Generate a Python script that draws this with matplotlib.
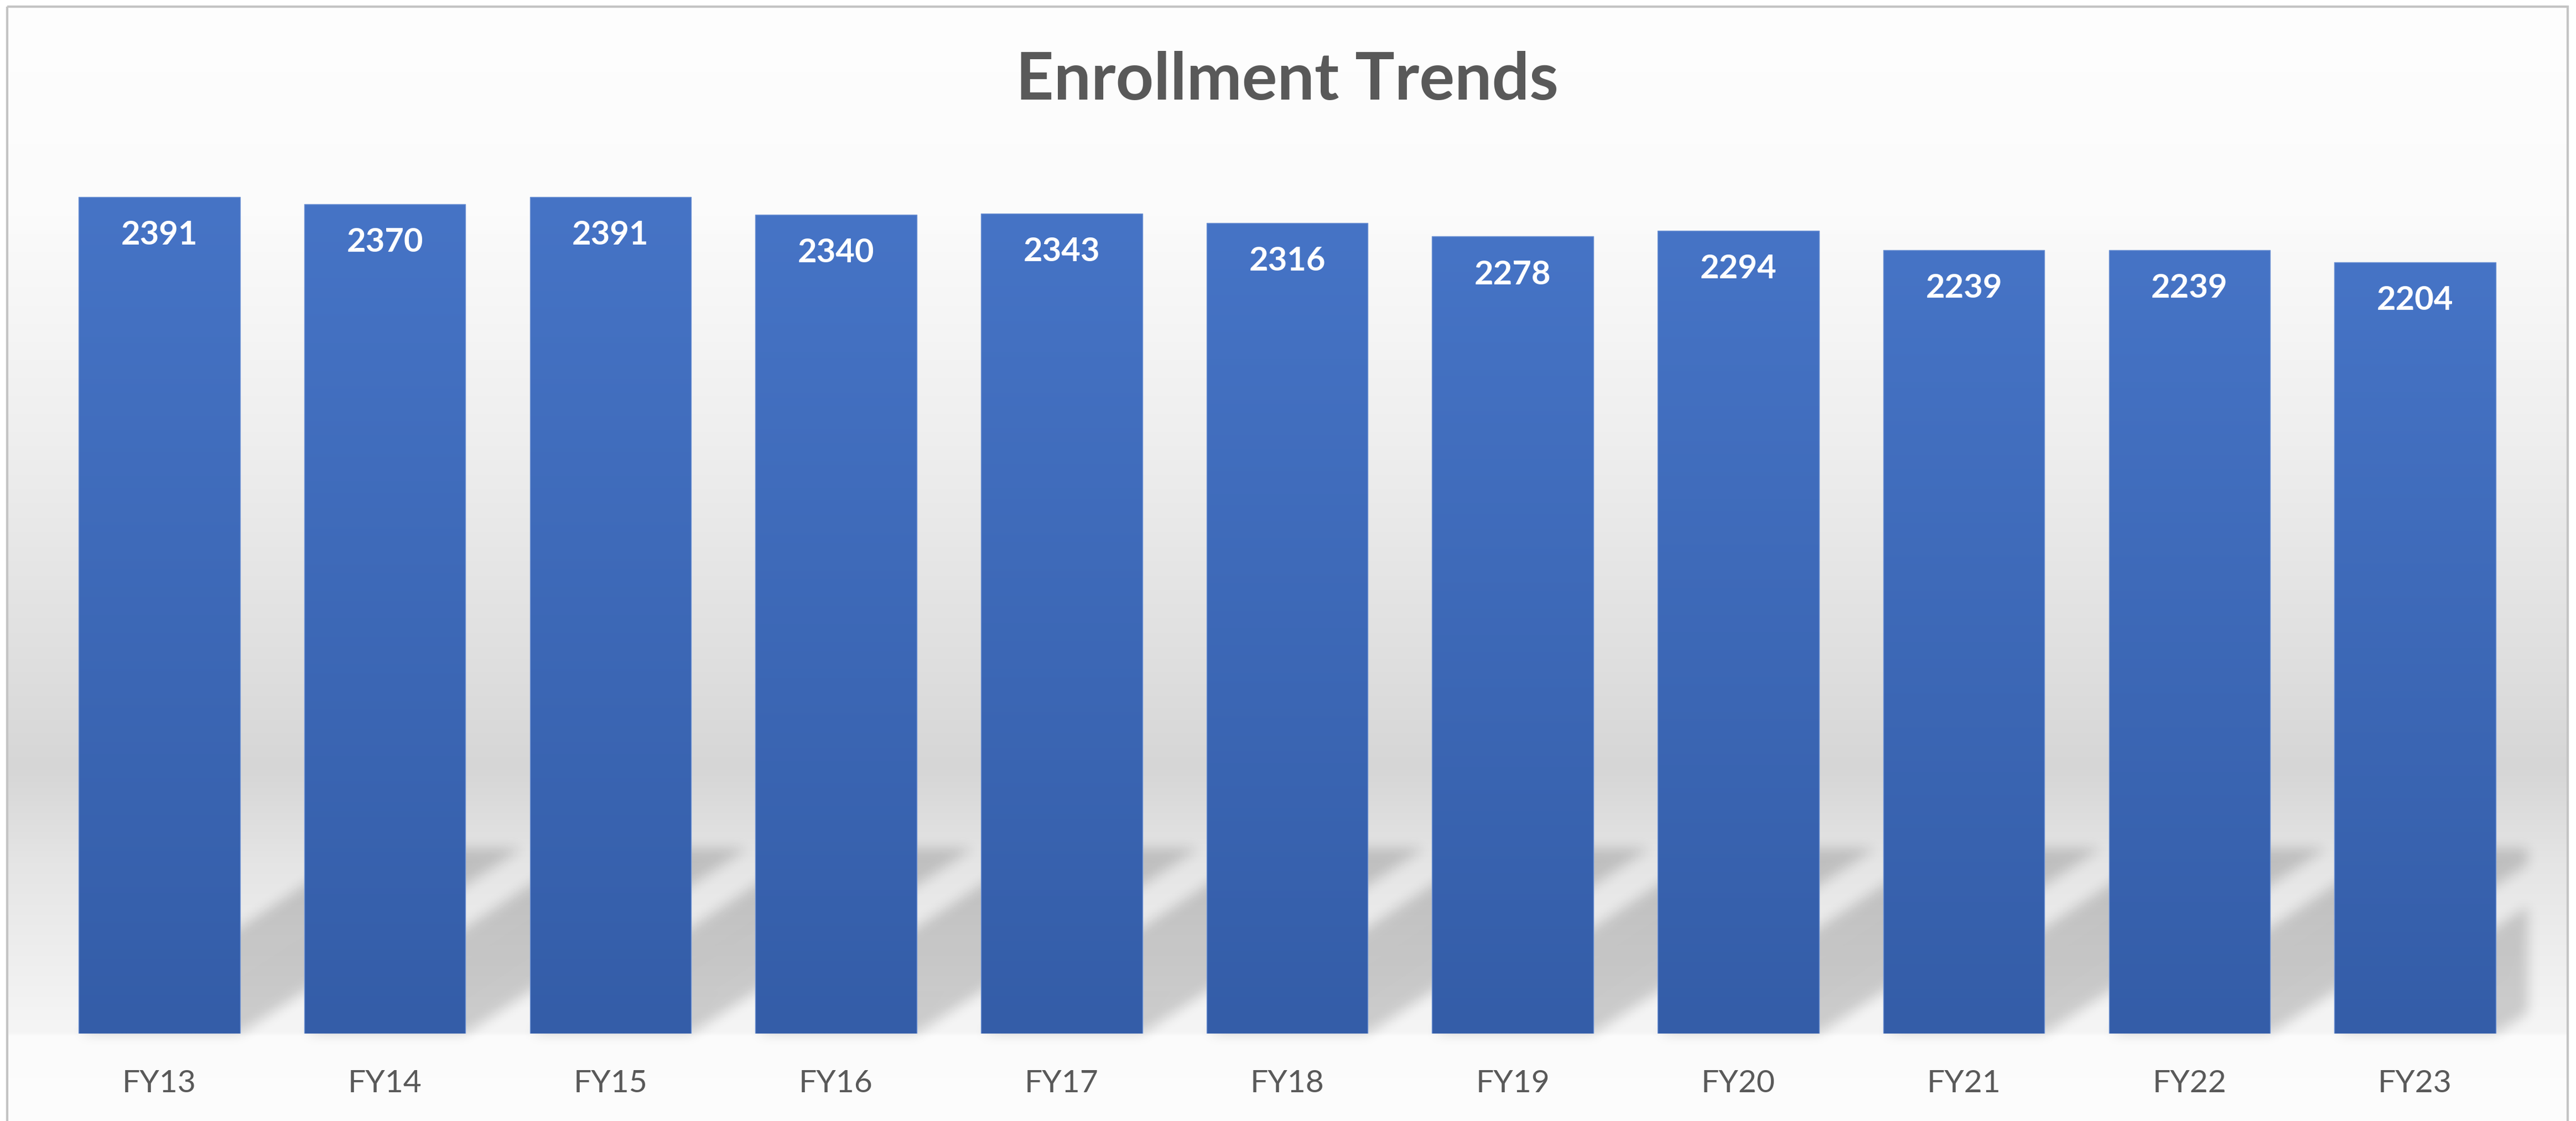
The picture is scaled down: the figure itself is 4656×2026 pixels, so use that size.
import numpy as np
import matplotlib
matplotlib.use("Agg")
import matplotlib.pyplot as plt
from matplotlib.collections import PolyCollection
from matplotlib.patches import Rectangle

# data
categories = ["FY13", "FY14", "FY15", "FY16", "FY17", "FY18",
              "FY19", "FY20", "FY21", "FY22", "FY23"]
enrollment = [2391, 2370, 2391, 2340, 2343, 2316, 2278, 2294, 2239, 2239, 2204]

W, H, DPI = 4656, 2026, 100
plt.rcParams["font.family"] = ["Lato", "DejaVu Sans"]


def blur(a, r):
    # two passes of a box blur along each axis ~ gaussian
    out = a
    for _ in range(2):
        for ax_ in (0, 1):
            pad = [(0, 0), (0, 0)]
            pad[ax_] = (r + 1, r)
            c = np.cumsum(np.pad(out, pad, mode="edge"), axis=ax_)
            n = out.shape[ax_]
            out = (np.take(c, np.arange(2 * r + 1, 2 * r + 1 + n), axis=ax_)
                   - np.take(c, np.arange(n), axis=ax_)) / (2 * r + 1)
    return out


def shadow_filter(im, dpi):
    pad = 30
    padded = np.pad(im, [(pad, pad), (pad, pad), (0, 0)], mode="constant")
    out = np.zeros_like(padded)
    out[..., 3] = blur(padded[..., 3], 9)
    return out, -pad, -pad


fig = plt.figure(figsize=(W / DPI, H / DPI), dpi=DPI, facecolor="white")

# chart area background: vertical grey gradient
rows = np.arange(H)
stops_y = [0, 390, 780, 1170, 1390, 1560, 1820, 1866, 1872, H]
stops_g = [254, 251, 239, 224, 214, 229, 243, 245, 251, 253]
grey = np.interp(rows, stops_y, stops_g) / 255.0
bg_img = np.repeat(grey[:, None, None], 3, axis=2)
bg = fig.add_axes([0, 0, 1, 1], zorder=-5)
bg.imshow(bg_img, aspect="auto", extent=(0, W, H, 0), interpolation="bilinear")
bg.set_xlim(0, W)
bg.set_ylim(H, 0)
bg.axis("off")
# white outside the frame
bg.add_patch(Rectangle((0, 0), 12, H, color="white", zorder=2))
bg.add_patch(Rectangle((0, 0), W, 11, color="white", zorder=2))
bg.add_patch(Rectangle((4642, 0), W - 4642, H, color="white", zorder=2))
bg.add_patch(Rectangle((13, 12), 4628, H + 20, fill=False,
                       edgecolor="#c4c4c4", linewidth=3, zorder=3))

ax = fig.add_axes([84 / W, (H - 1868) / H, (4569 - 84) / W, (1868 - 287) / H])
ax.set_facecolor("none")

x = np.arange(len(categories))
bar_w = 0.715
bars = ax.bar(x, enrollment, width=bar_w, facecolor="none",
              edgecolor="#6f93d4", linewidth=1.0, zorder=4)

# perspective shadow behind each bar (up and to the right)
shadow_h = 530
skew = 1.25
polys = []
for p in bars:
    x0, w = p.get_x(), p.get_width()
    polys.append([(x0, 0), (x0 + w, 0), (x0 + w + skew, shadow_h), (x0 + skew, shadow_h)])
shadows = PolyCollection(polys, facecolors=(0, 0, 0, 0.17), edgecolors="none", zorder=1)
shadows.set_agg_filter(shadow_filter)
ax.add_collection(shadows)

# gradient fill inside each bar
top_c = np.array([0x46, 0x74, 0xc6]) / 255.0
bot_c = np.array([0x34, 0x5d, 0xa8]) / 255.0
t = np.linspace(0, 1, 256)[:, None, None]
grad = top_c * (1 - t) + bot_c * t
for p in bars:
    x0, w, h = p.get_x(), p.get_width(), p.get_height()
    im = ax.imshow(grad, extent=(x0, x0 + w, 0, h), aspect="auto",
                   interpolation="bilinear", origin="upper", zorder=3)
    im.set_clip_path(p)

# value labels inside bar tops
for xi, v in zip(x, enrollment):
    ax.annotate(str(v), (xi, v), xytext=(0, -62), textcoords="offset points",
                ha="center", va="baseline", color="white",
                fontsize=43, fontweight="bold")

ax.set_xlim(-0.5, len(categories) - 0.5)
ax.set_ylim(0, 2500)
ax.set_xticks(x, categories)
ax.tick_params(axis="x", length=0, pad=47, labelsize=41, labelcolor="#595959")
ax.set_yticks([])
for s in ax.spines.values():
    s.set_visible(False)

fig.text(0.4996, 1 - 180 / H, "Enrollment Trends", ha="center", va="baseline",
         fontsize=86, fontweight="bold", color="#595959")

fig.savefig("out.png", dpi=DPI, facecolor="white")
